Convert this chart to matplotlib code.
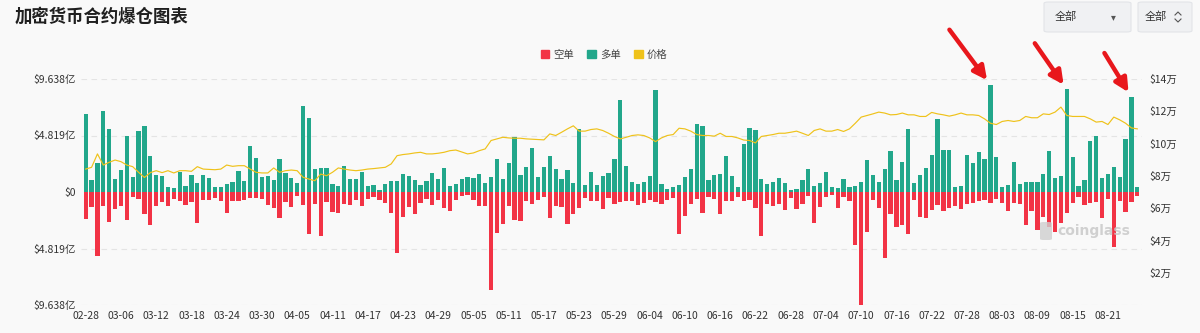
import numpy as np
import pandas as pd
import matplotlib
matplotlib.use("Agg")
import matplotlib.pyplot as plt
from matplotlib.patches import FancyBboxPatch, Patch
from matplotlib.lines import Line2D

plt.rcParams['font.family'] = ['Noto Sans CJK SC', 'DejaVu Sans']

# daily data, 2025-02-28 .. 2025-08-26
dates = pd.date_range('2025-02-28', periods=180, freq='D')

# long liquidations (亿 USD)
long_liq = [
    6.68, 1.00, 2.47, 6.88, 5.34, 1.08, 1.85, 4.75, 1.28, 5.17,
    5.60, 3.10, 1.42, 1.34, 0.43, 0.31, 1.71, 0.48, 1.48, 0.77,
    1.42, 1.22, 0.43, 0.43, 0.65, 0.85, 1.79, 0.94, 3.95, 2.90,
    1.28, 1.34, 1.00, 2.84, 1.65, 1.19, 0.77, 7.33, 6.28, 1.99,
    2.08, 2.08, 0.65, 0.51, 2.19, 1.08, 1.14, 1.68, 0.54, 0.60,
    0.20, 0.71, 0.97, 0.94, 1.54, 1.36, 1.00, 0.60, 0.91, 1.62,
    1.11, 2.05, 0.48, 0.65, 1.14, 1.31, 1.19, 1.56, 0.80, 1.25,
    2.79, 1.14, 2.47, 4.69, 1.48, 2.13, 3.75, 1.28, 2.13, 3.04,
    1.96, 1.14, 1.85, 0.80, 5.40, 0.63, 1.71, 0.63, 1.36, 1.62,
    2.84, 7.88, 2.19, 0.82, 0.68, 0.82, 1.39, 8.67, 0.65, 0.23,
    0.40, 0.57, 1.31, 1.93, 5.77, 5.63, 1.05, 1.48, 1.51, 3.10,
    1.36, 0.43, 4.12, 5.49, 5.26, 1.08, 0.65, 0.82, 1.19, 0.74,
    0.14, 0.26, 1.00, 1.96, 0.54, 0.80, 1.71, 0.40, 0.34, 1.08,
    0.43, 0.54, 0.88, 2.76, 1.42, 0.88, 1.96, 3.53, 1.05, 2.53,
    5.37, 0.80, 1.42, 2.05, 3.13, 6.23, 3.61, 3.58, 0.40, 0.51,
    3.18, 2.50, 3.44, 2.81, 9.15, 3.01, 0.43, 0.57, 2.59, 0.65,
    0.82, 0.82, 0.82, 1.56, 3.53, 1.22, 1.34, 8.76, 2.99, 0.51,
    1.00, 4.35, 4.78, 1.17, 1.54, 2.13, 1.28, 4.49, 8.10, 0.40,
]

# short liquidations (亿 USD)
short_liq = [
    2.27, 1.28, 5.49, 1.22, 2.56, 1.48, 1.19, 2.36, 0.43, 0.63,
    1.90, 2.79, 1.19, 0.85, 1.22, 0.57, 0.80, 1.08, 0.85, 2.62,
    0.71, 0.71, 0.51, 0.80, 1.79, 0.80, 0.80, 0.71, 0.48, 0.48,
    0.57, 1.14, 1.36, 2.22, 0.85, 1.28, 0.37, 1.14, 3.61, 1.05,
    3.78, 0.85, 1.71, 1.76, 1.05, 1.14, 0.71, 1.22, 0.63, 0.43,
    0.71, 0.91, 1.76, 5.20, 2.13, 1.28, 1.90, 0.91, 0.57, 1.08,
    0.65, 1.36, 1.59, 0.71, 0.34, 0.28, 0.65, 1.17, 1.17, 8.39,
    3.53, 2.73, 1.17, 2.39, 2.45, 0.77, 1.05, 0.65, 0.43, 2.19,
    1.19, 1.28, 2.70, 1.90, 1.34, 0.51, 0.77, 0.77, 1.42, 0.51,
    1.05, 0.85, 0.80, 0.77, 1.11, 0.94, 0.65, 0.88, 1.05, 0.71,
    0.51, 3.58, 2.05, 1.05, 0.63, 1.76, 0.40, 0.63, 1.90, 0.74,
    0.80, 0.43, 0.77, 0.71, 1.36, 3.78, 1.00, 1.19, 1.05, 1.56,
    0.51, 1.42, 1.05, 0.37, 2.64, 1.28, 0.43, 0.28, 1.34, 0.43,
    0.80, 4.49, 9.60, 3.41, 0.65, 1.34, 5.63, 1.90, 2.99, 2.79,
    3.61, 0.65, 2.13, 2.22, 1.51, 1.08, 1.62, 1.36, 1.22, 1.45,
    1.05, 0.94, 0.80, 0.71, 0.94, 0.63, 0.94, 1.65, 0.94, 1.05,
    2.84, 1.65, 3.21, 2.13, 2.99, 3.41, 2.64, 1.79, 0.94, 0.43,
    1.14, 0.94, 0.85, 2.22, 0.60, 4.69, 0.80, 1.71, 0.85, 0.37,
]

# BTC price (万 USD)
price = [
    8.42, 8.53, 9.36, 8.67, 8.84, 8.98, 8.88, 8.67, 8.57, 8.22,
    7.90, 8.20, 8.32, 8.20, 8.32, 8.18, 8.32, 8.32, 8.28, 8.57,
    8.42, 8.40, 8.38, 8.42, 8.67, 8.59, 8.63, 8.63, 8.42, 8.22,
    8.18, 8.18, 8.49, 8.22, 8.32, 8.36, 8.32, 7.91, 7.80, 7.70,
    8.11, 8.01, 8.22, 8.49, 8.42, 8.36, 8.32, 8.36, 8.42, 8.45,
    8.49, 8.53, 8.74, 9.25, 9.32, 9.36, 9.42, 9.46, 9.36, 9.36,
    9.40, 9.46, 9.56, 9.60, 9.48, 9.36, 9.42, 9.56, 9.67, 10.19,
    10.29, 10.39, 10.35, 10.33, 10.33, 10.29, 10.27, 10.25, 10.23, 10.60,
    10.50, 10.70, 10.91, 11.10, 10.77, 10.77, 10.87, 10.91, 10.81, 10.64,
    10.44, 10.29, 10.39, 10.50, 10.54, 10.50, 10.35, 10.12, 10.35, 10.50,
    10.56, 10.95, 10.91, 10.77, 10.56, 10.50, 10.50, 10.46, 10.64, 10.44,
    10.44, 10.35, 10.22, 10.19, 10.04, 10.44, 10.50, 10.56, 10.64, 10.64,
    10.70, 10.77, 10.64, 10.50, 10.81, 10.91, 10.77, 10.77, 10.87, 10.75,
    10.91, 11.26, 11.64, 11.74, 11.84, 11.95, 11.89, 11.78, 11.80, 11.89,
    11.78, 11.78, 11.68, 11.68, 11.93, 11.84, 11.78, 11.70, 11.78, 11.89,
    11.78, 11.78, 11.74, 11.53, 11.26, 11.18, 11.37, 11.43, 11.37, 11.43,
    11.68, 11.60, 11.60, 11.84, 11.80, 11.95, 12.26, 11.74, 11.68, 11.68,
    11.68, 11.53, 11.33, 11.37, 11.18, 11.64, 11.47, 11.26, 10.97, 10.91,
]

left_ticks = [-9.638, -4.819, 0, 4.819, 9.638]
left_labels = ['$9.638亿', '$4.819亿', '$0', '$4.819亿', '$9.638亿']
right_ticks = [2, 4, 6, 8, 10, 12, 14]
right_labels = ['$%d万' % v for v in right_ticks]
marked_days = ['2025-08-01', '2025-08-14', '2025-08-25']   # red arrows

GREEN = '#22a78b'
RED = '#f23345'
YELLOW = '#efc21a'
BG = '#f9f9f9'

W, H = 1200, 333


def fx(px):
    return px / W


def fy(py):
    return 1 - py / H


fig = plt.figure(figsize=(12, 3.33), dpi=100)
fig.patch.set_facecolor(BG)

ax = fig.add_axes([fx(81), fy(305), fx(1142) - fx(81), fy(79) - fy(305)])
ax.set_facecolor('none')

x = np.arange(len(dates))
long_arr = np.array(long_liq)
short_arr = np.array(short_liq)

ax.bar(x, long_arr, width=0.72, color=GREEN, zorder=2)
ax.bar(x, -short_arr, width=0.72, color=RED, zorder=2)

ax.set_xlim(-0.8, len(dates) - 0.2)
ax.set_ylim(-9.638, 9.638)
ax.set_yticks(left_ticks)
ax.set_yticklabels(left_labels)
for v in left_ticks:
    if v != 0:
        ax.axhline(v, color='#e4e4e4', lw=0.8, ls=(0, (5, 4)), zorder=0)

ticks = x[::6]
ax.set_xticks(ticks)
ax.set_xticklabels([d.strftime('%m-%d') for d in dates[::6]])
ax.tick_params(axis='both', length=0, labelsize=7.5, labelcolor='#333333')
ax.tick_params(axis='y', pad=4)
ax.tick_params(axis='x', pad=4)
for s in ax.spines.values():
    s.set_visible(False)

ax2 = ax.twinx()
ax2.plot(x, price, color=YELLOW, lw=0.85, zorder=3)
ax2.set_ylim(0, 14)
ax2.set_yticks(right_ticks)
ax2.set_yticklabels(right_labels)
ax2.tick_params(axis='y', length=0, labelsize=7.5, labelcolor='#333333', pad=5)
for s in ax2.spines.values():
    s.set_visible(False)

# red arrows pointing at the big long liquidation spikes
arrow_offsets = [(-41, 55), (-32, 46), (-27, 44)]
for day, off in zip(marked_days, arrow_offsets):
    i = dates.get_loc(pd.Timestamp(day))
    ax.annotate('', xy=(i, long_arr[i]), xytext=off, textcoords='offset pixels',
                arrowprops=dict(arrowstyle='-|>', color='#e8171c', lw=3.2,
                                mutation_scale=20, shrinkA=0, shrinkB=4),
                annotation_clip=False, zorder=5)

# title
fig.text(fx(15), fy(17), '加密货币合约爆仓图表', fontsize=12.5, fontweight='bold',
         color='#1f1f1f', va='center', ha='left')

# legend
handles = [Patch(color=RED, label='空单'), Patch(color=GREEN, label='多单'),
           Patch(color=YELLOW, label='价格')]
fig.legend(handles=handles, loc='center', bbox_to_anchor=(fx(604), fy(55)), ncol=3,
           frameon=False, fontsize=7.5, handlelength=0.8, handleheight=0.8,
           handletextpad=0.4, columnspacing=1.3, labelcolor='#444444')

# dropdown boxes
for x0, x1 in [(1044, 1131), (1138, 1192)]:
    box = FancyBboxPatch((fx(x0), fy(32)), fx(x1) - fx(x0), fy(2) - fy(32),
                         boxstyle='round,pad=0,rounding_size=0.004',
                         transform=fig.transFigure, facecolor='#f0f1f3',
                         edgecolor='#e2e4e8', lw=0.8)
    fig.add_artist(box)
fig.text(fx(1055), fy(17), '全部', fontsize=8, color='#333333', va='center')
fig.text(fx(1113), fy(17), '▾', fontsize=7, color='#555555', va='center', ha='center')
fig.text(fx(1145), fy(17), '全部', fontsize=8, color='#333333', va='center')
fig.add_artist(Line2D([fx(1175), fx(1178), fx(1181)], [fy(15), fy(12), fy(15)],
                      transform=fig.transFigure, color='#555555', lw=0.8))
fig.add_artist(Line2D([fx(1175), fx(1178), fx(1181)], [fy(19), fy(22), fy(19)],
                      transform=fig.transFigure, color='#555555', lw=0.8))

# watermark
fig.add_artist(FancyBboxPatch((fx(1040), fy(240)), fx(12), fy(222) - fy(240),
                              boxstyle='round,pad=0,rounding_size=0.003',
                              transform=fig.transFigure, facecolor='#cfcfcf',
                              edgecolor='none', alpha=0.8))
fig.text(fx(1057), fy(231), 'coinglass', fontsize=10, fontweight='bold',
         color='#c9c9c9', alpha=0.85, va='center', ha='left', family='DejaVu Sans')

fig.savefig('out.png', dpi=100, facecolor=BG)
